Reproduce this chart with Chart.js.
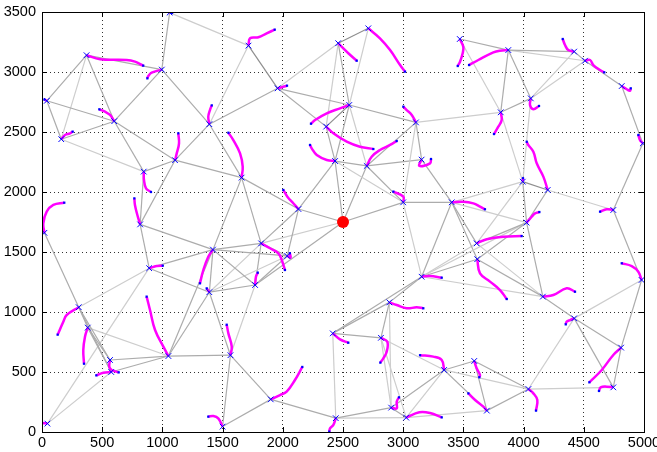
<!DOCTYPE html>
<html>
<head>
<meta charset="utf-8">
<script src="https://cdn.jsdelivr.net/npm/chart.js@4.4.1/dist/chart.umd.min.js"></script>
<style>
  body { margin: 0; background: #fff; }
  canvas { display: block; }
</style>
</head>
<body>
<canvas id="reseau" width="657" height="452"></canvas>
<script>
// noeuds du réseau (positions)
const nodeIds = ["A","B","C","D","E","F","G","H","I","J","K","L","M","N","O","P","Q","R","S","T",
  "U","V","W","X","Y","Z","a","b","c","d","e","f","g","h","i","j","k","l","m","n","o","p","q","r","s","t",
  "u","v","w","x","y","z","A2","B2","C2","D2","E2","F2","G2","H2","I2","J2","K2","L2","M2","N2","O2","P2","Q2","R2"];
const nodeX = [40,370,160,600,995,1060,1390,1105,845,815,20,1420,890,1390,305,380,565,575,1050,45,
  1565,1500,1900,2440,2415,2815,2885,2900,3025,3340,3590,3695,4040,4160,4420,4810,4745,4980,4745,4200,3993,4025,3403,3610,3615,3153,
  4990,3470,3873,4420,4510,4815,4060,3810,2710,2460,1715,1957,2552,2360,3106,2434,2697,1658,2130,3000,1820,2037,1770,3153];
const nodeY = [2760,3140,2440,2590,3020,3495,2565,2265,2170,1730,1660,1520,1365,1165,1040,870,600,500,633,70,
  640,45,272,115,822,785,1080,203,120,517,592,178,358,1128,947,703,372,1267,1850,2017,2086,1745,1914,1572,1440,1294,
  2405,3275,3183,3170,3094,2883,2780,2664,3364,3240,3220,2864,2725,2545,2580,2258,2217,2120,1858,1914,1572,1467,1225,2270];

// source (point rouge)
const sourceX = [2500];
const sourceY = [1750];

// liaisons : [noeud1, noeud2, teinte 0=clair 1=moyen 2=foncé]
const edges = [
  ["A","B",1],["A","C",1],["A","D",1],["B","C",0],["B","D",1],["B","E",1],["C","D",1],["C","I",0],
  ["D","E",1],["D","I",1],["D","H",1],["E","F",1],["E","G",1],["F","E2",0],["E2","G",0],["E2","F2",2],
  ["F2","G",1],["F2","D2",0],["F2","G2",1],["F2","H2",1],["G","H",1],["G","L2",1],["H","I",1],["H","L2",1],
  ["H","J",1],["I","J",1],["J","L",1],["J","M",1],["K","O",1],["L","L2",1],["L","M",1],["L","N",1],
  ["L","O2",1],["L","P2",1],["L","Q2",1],["L","S",1],["M","N",1],["M","O",0],["N","S",1],["N","O2",0],
  ["N","Q2",1],["N","P2",0],["N","U",1],["O","P",1],["O","Q",1],["O","R",1],["P","Q",1],["P","R",1],
  ["P","S",0],["Q","S",1],["R","S",1],["T","R",0],["T","M",0],["S","U",1],["Q2","U",0],["U","V",1],
  ["U","W",1],["V","W",1],["W","X",1],["X","Y",0],["X","b",1],["X","c",0],["Y","Z",1],["Y","a",1],
  ["Y","t",1],["Z","a",1],["Z","b",0],["Z","c",0],["Z","d",0],["a","t",1],["a","b",0],["b","c",1],
  ["b","d",1],["c","f",0],["c","d",0],["d","e",1],["d","f",1],["d","g",0],["e","f",1],["e","g",1],
  ["f","g",1],["g","k",0],["g","i",0],["h","i",1],["h","s",1],["h","r",0],["h","p",1],["h","t",0],
  ["i","j",1],["i","k",1],["i","l",0],["j","k",1],["j","l",1],["l","m",1],["m","u",1],["m","n",0],
  ["n","o",2],["n","p",1],["o","p",1],["o","q",0],["o","r",0],["o","B2",0],["A2","o",0],["p","q",0],
  ["p","r",1],["p","s",1],["p","t",0],["q","r",1],["q","s",1],["q","t",1],["q","N2",1],["q","R2",1],
  ["r","t",0],["s","t",1],["t","N2",0],["u","z",1],["z","y",1],["y","x",1],["w","x",1],["w","y",0],
  ["v","w",1],["v","B2",0],["w","B2",1],["w","A2",1],["A2","B2",1],["A2","x",0],["A2","y",0],["B2","I2",0],
  ["C2","D2",2],["C2","G2",0],["D2","G2",1],["D2","H2",0],["G2","H2",2],["G2","I2",1],["G2","J2",1],
  ["G2","K2",0],["H2","J2",1],["I2","K2",1],["I2","R2",1],["I2","N2",0],["J2","K2",1],["J2","M2",1],
  ["J2","src",1],["J2","N2",0],["K2","src",1],["K2","R2",1],["K2","N2",1],["L2","M2",1],["L2","O2",1],
  ["M2","src",1],["M2","O2",1],["M2","P2",1],["src","N2",1],["src","O2",0],["src","Q2",1],["O2","P2",1],
  ["O2","Q2",1],["P2","Q2",1]
];

// trajectoires (partent du noeud, finissent au point bleu)
const trajectories = [
  ["A",[[20,2770]]],
  ["B",[[482,3106],[703,3100],[772,3086],[841,3053]]],
  ["C",[[191,2475],[233,2489],[255,2503]]],
  ["D",[[565,2642],[523,2669],[476,2689]]],
  ["E",[[911,2994],[883,2967],[875,2947]]],
  ["F",[[1080,3492]]],
  ["G",[[1381,2627],[1395,2683],[1410,2722]]],
  ["H",[[1119,2322],[1138,2406],[1132,2489]]],
  ["I",[[847,2100],[864,2031],[905,2000]]],
  ["J",[[792,1808],[772,1892],[767,1947]]],
  ["K",[[11,1739],[39,1836],[94,1892],[185,1911]]],
  ["L",[[1381,1461],[1340,1350],[1312,1239]]],
  ["M",[[953,1383],[1003,1386]]],
  ["N",[[1368,1197]]],
  ["O",[[205,975],[177,919],[130,811]]],
  ["P",[[357,794],[343,683],[349,569]]],
  ["Q",[[559,544],[579,517],[637,497]]],
  ["R",[[509,494],[451,472]]],
  ["S",[[1008,711],[939,850],[897,1017],[869,1128]]],
  ["T",[[0,75]]],
  ["U",[[1576,711],[1548,822],[1534,894]]],
  ["V",[[1464,114],[1423,133],[1381,128]]],
  ["W",[[1977,308],[2032,336],[2101,433],[2162,542]]],
  ["X",[[2419,58],[2392,31],[2386,3]]],
  ["Y",[[2475,772],[2544,744]]],
  ["Z",[[2868,752],[2863,669],[2835,614],[2810,578]]],
  ["a",[[2946,1058],[3029,1031],[3112,1039],[3167,1031]]],
  ["b",[[2946,197],[2946,253],[2965,289]]],
  ["c",[[3134,164],[3223,158],[3320,122]]],
  ["d",[[3320,600],[3250,628],[3140,640]]],
  ["e",[[3610,531],[3638,475],[3632,456]]],
  ["f",[[3666,211],[3597,267],[3541,322]]],
  ["g",[[4081,322],[4114,267],[4103,178]]],
  ["h",[[4247,1142],[4358,1197],[4427,1169]]],
  ["i",[[4386,933],[4358,919],[4350,897]]],
  ["j",[[4745,642],[4649,517],[4546,414]]],
  ["k",[[4690,378],[4640,372],[4626,342]]],
  ["l",[[4953,1336],[4898,1383],[4815,1406]]],
  ["m",[[4690,1856],[4635,1836]]],
  ["n",[[4164,2128],[4109,2239],[4081,2336],[4039,2392],[4026,2419]]],
  ["o",[[3995,2115]]],
  ["p",[[4067,1794],[4095,1822],[4131,1833]]],
  ["q",[[3499,1919],[3583,1905],[3638,1878],[3679,1856]]],
  ["r",[[3694,1606],[3832,1628],[3984,1633]]],
  ["s",[[3638,1322],[3721,1253],[3804,1183],[3860,1108]]],
  ["t",[[3223,1300],[3320,1286]]],
  ["u",[[4967,2433],[4953,2475]]],
  ["v",[[3499,3211],[3494,3156],[3472,3086],[3453,3050]]],
  ["w",[[3804,3178],[3749,3164],[3624,3100],[3547,3058]]],
  ["x",[[4371,3183],[4344,3225],[4325,3275]]],
  ["y",[[4552,3100],[4579,3058],[4635,3017],[4670,2997]]],
  ["z",[[4857,2856],[4884,2844],[4890,2864]]],
  ["A2",[[4053,2725],[4081,2689],[4128,2717]]],
  ["B2",[[3818,2600],[3790,2544],[3754,2483]]],
  ["C2",[[2807,3281],[2891,3183],[2974,3058],[3015,3003]]],
  ["D2",[[2503,3196],[2544,3156],[2614,3094]]],
  ["E2",[[1728,3281],[1797,3289],[1866,3322],[1933,3353]]],
  ["F2",[[1991,2873],[2035,2886]]],
  ["G2",[[2475,2697],[2365,2656],[2268,2600],[2234,2569]]],
  ["H2",[[2420,2489],[2531,2419],[2641,2377],[2752,2358]]],
  ["I2",[[3071,2642],[3029,2683],[3001,2711]]],
  ["J2",[[2365,2267],[2282,2308],[2240,2364],[2226,2392]]],
  ["K2",[[2738,2294],[2807,2350],[2891,2392],[2946,2425]]],
  ["L2",[[1667,2211],[1645,2322],[1589,2433],[1548,2494]]],
  ["M2",[[2087,1906],[2038,1961],[2004,2017]]],
  ["N2",[[3001,1961],[2918,2003]]],
  ["O2",[[1894,1531],[1963,1489],[1991,1433],[2018,1350]]],
  ["P2",[[2065,1453],[2058,1490]]],
  ["Q2",[[1777,1294],[1792,1328]]],
  ["R2",[[3134,2217],[3223,2239],[3231,2275]]]
];

const xTicks = [0,500,1000,1500,2000,2500,3000,3500,4000,4500,5000];
const yTicks = [0,500,1000,1500,2000,2500,3000,3500];

const teintes = ["#cdcdcd", "#acacac", "#8f8f8f"];

// table des positions
const pos = {};
nodeIds.forEach((id, k) => { pos[id] = { x: nodeX[k], y: nodeY[k] }; });
pos["src"] = { x: sourceX[0], y: sourceY[0] };

const datasets = [];

// liaisons grises
edges.forEach(([n1, n2, t]) => {
  datasets.push({
    data: [pos[n1], pos[n2]],
    showLine: true,
    borderColor: teintes[t],
    borderWidth: 1.2,
    pointRadius: 0,
    order: 5
  });
});

// trajectoires magenta
const finTraj = [];
trajectories.forEach(([id, pts]) => {
  const data = [pos[id]].concat(pts.map(p => ({ x: p[0], y: p[1] })));
  finTraj.push(data[data.length - 1]);
  datasets.push({
    data: data,
    showLine: true,
    borderColor: "#ff00ff",
    borderWidth: 2.5,
    tension: 0.4,
    pointRadius: 0,
    order: 3
  });
});

// points de fin
datasets.push({
  data: finTraj,
  pointStyle: "rect",
  pointRadius: 1.6,
  backgroundColor: "#0000ff",
  borderColor: "#0000ff",
  borderWidth: 0,
  order: 2
});

// noeuds
datasets.push({
  data: nodeIds.map(id => pos[id]),
  pointStyle: "crossRot",
  pointRadius: 4,
  borderColor: "#0000ff",
  borderWidth: 1,
  order: 1
});

// source
datasets.push({
  data: sourceX.map((x, k) => ({ x: x, y: sourceY[k] })),
  pointRadius: 6,
  backgroundColor: "#ff0000",
  borderColor: "#ff0000",
  borderWidth: 0,
  order: 0
});

// cadre et petites graduations vers l'intérieur
const cadre = {
  id: "cadre",
  afterDraw(chart) {
    const { ctx, chartArea: ca, scales } = chart;
    ctx.save();
    ctx.strokeStyle = "#000";
    ctx.lineWidth = 1;
    ctx.beginPath();
    xTicks.forEach(v => {
      const px = Math.round(scales.x.getPixelForValue(v)) + 0.5;
      ctx.moveTo(px, ca.bottom); ctx.lineTo(px, ca.bottom - 5);
      ctx.moveTo(px, ca.top); ctx.lineTo(px, ca.top + 5);
    });
    yTicks.forEach(v => {
      const py = Math.round(scales.y.getPixelForValue(v)) + 0.5;
      ctx.moveTo(ca.left, py); ctx.lineTo(ca.left + 5, py);
      ctx.moveTo(ca.right, py); ctx.lineTo(ca.right - 5, py);
    });
    ctx.stroke();
    ctx.strokeRect(Math.round(ca.left) + 0.5, Math.round(ca.top) + 0.5,
      Math.round(ca.right - ca.left), Math.round(ca.bottom - ca.top));
    ctx.restore();
  }
};

const police = { family: "'Liberation Sans', Arial, sans-serif", size: 14.5 };

new Chart(document.getElementById("reseau"), {
  type: "scatter",
  data: { datasets: datasets },
  options: {
    responsive: false,
    animation: false,
    layout: { padding: { top: 12, right: 13, left: 0, bottom: 0 } },
    plugins: { legend: { display: false }, tooltip: { enabled: false } },
    scales: {
      x: {
        min: 0, max: 5000,
        afterBuildTicks: s => { s.ticks = xTicks.map(v => ({ value: v })); },
        afterFit: s => { s.height = 20; s.paddingLeft = 0; s.paddingRight = 0; },
        ticks: { color: "#000", font: police, padding: 2, maxRotation: 0, callback: v => String(v) },
        grid: { color: "rgba(0,0,0,0.8)", drawTicks: false, lineWidth: 1 },
        border: { display: false, dash: [1, 3] }
      },
      y: {
        min: 0, max: 3500,
        afterBuildTicks: s => { s.ticks = yTicks.map(v => ({ value: v })); },
        afterFit: s => { s.width = 42; s.paddingTop = 0; s.paddingBottom = 0; },
        ticks: { color: "#000", font: police, padding: 6, callback: v => String(v) },
        grid: { color: "rgba(0,0,0,0.8)", drawTicks: false, lineWidth: 1 },
        border: { display: false, dash: [1, 3] }
      }
    }
  },
  plugins: [cadre]
});
</script>
</body>
</html>
